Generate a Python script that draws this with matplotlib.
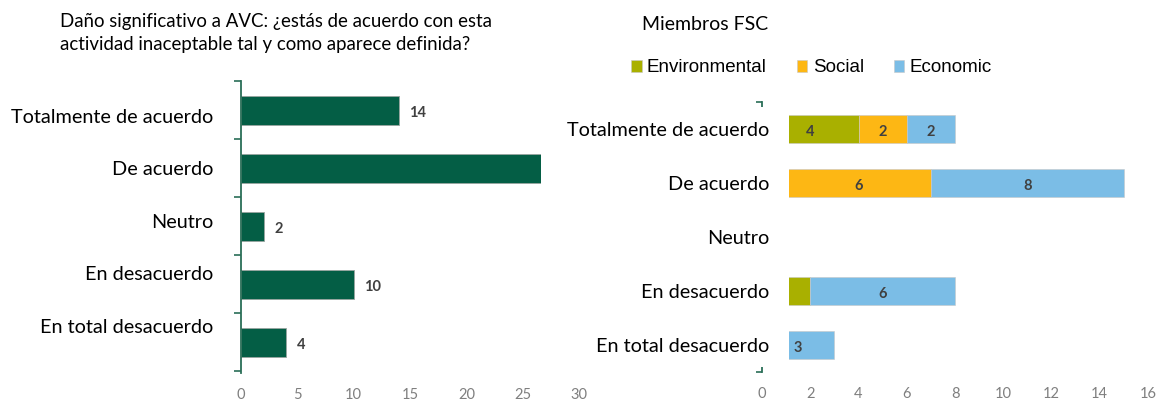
import numpy as np
import matplotlib
matplotlib.use('Agg')
import matplotlib.pyplot as plt
from matplotlib.patches import Rectangle

# data
categorias = ['Totalmente de acuerdo', 'De acuerdo', 'Neutro', 'En desacuerdo', 'En total desacuerdo']
total = [14, 27, 2, 10, 4]
env = [4, 1, 0, 2, 0]
soc = [2, 6, 0, 0, 0]
eco = [2, 8, 0, 6, 3]
series = ['Environmental', 'Social', 'Economic']

titulo = 'Daño significativo a AVC: ¿estás de acuerdo con esta\nactividad inaceptable tal y como aparece definida?'
titulo2 = 'Miembros FSC'

verde = '#045E45'
eje = '#2A6E57'
gris = '#7F7F7F'
oscuro = '#404040'
colores = ['#A9B000', '#FDB714', '#7BBDE6']

plt.rcParams['font.family'] = ['Lato', 'DejaVu Sans']

fig = plt.figure(figsize=(11.61, 4.01), dpi=100)
ax1 = fig.add_axes([241/1161, 1-373/401, 338/1161, 292/401])
ax2 = fig.add_axes([762/1161, 1-372/401, 386/1161, 270/401])

y = np.arange(len(categorias))

# ---- left chart
ax1.barh(y, total, height=0.5, color=verde, edgecolor='#9aa5a0', linewidth=0.6)
for i, v in enumerate(total):
    ax1.text(v + 0.95, y[i] + 0.05, str(v), va='center', ha='left',
             fontsize=10.5, fontweight='bold', color=oscuro)
# cropped end of the "De acuerdo" bar in the original
ax1.add_patch(Rectangle((26.62, 0.7), 3.2, 0.6, facecolor='white',
                        edgecolor='none', zorder=6))
ax1.set_xlim(0, 30)
ax1.set_ylim(4.53, -0.5)
ax1.set_xticks(range(0, 31, 5))
ax1.set_yticks([0.1, 1.0, 1.91, 2.81, 3.72])
ax1.set_yticklabels(categorias, fontsize=14.3)
ax1.set_yticks(np.arange(-0.5, 5, 1), minor=True)
ax1.tick_params(axis='y', which='major', length=0, pad=20)
ax1.tick_params(axis='y', which='minor', length=5, width=1.2, color=eje, direction='out')
ax1.tick_params(axis='x', length=0, pad=11, labelsize=10.5, labelcolor=gris)
for s in ['top', 'right', 'bottom']:
    ax1.spines[s].set_visible(False)
ax1.spines['left'].set_color(eje)
ax1.spines['left'].set_linewidth(1.3)
fig.text(60/1161, 1-33/401, titulo, fontsize=13.4, ha='left', va='center',
         linespacing=1.45)

# ---- right chart
left = np.zeros(len(categorias))
handles = []
for vals, nombre, c in zip([env, soc, eco], series, colores):
    b = ax2.barh(y, vals, left=left, height=0.52, color=c, edgecolor='#c8c8c8',
                 linewidth=0.4, label=nombre)
    handles.append(b)
    for i, v in enumerate(vals):
        if v > 0 and left[i] + v / 2 > 1.3:
            ax2.text(left[i] + v / 2, y[i] + 0.05, str(v), ha='center', va='center',
                     fontsize=10.5, fontweight='bold', color=oscuro, zorder=4)
    left += np.array(vals)
# white block hiding the start of the bars, as in the original
ax2.add_patch(Rectangle((-0.3, -0.41), 1.42, 4.82, facecolor='white',
                        edgecolor='none', zorder=6, clip_on=False))
ax2.yaxis.set_zorder(7)
ax2.set_xlim(0, 16)
ax2.set_ylim(4.5, -0.5)
ax2.set_xticks(range(0, 17, 2))
ax2.set_yticks(y)
ax2.set_yticklabels(categorias, fontsize=14.3)
ax2.set_yticks([-0.5, 4.5], minor=True)
ax2.tick_params(axis='y', which='major', length=0, pad=-5)
ax2.tick_params(axis='y', which='minor', length=4.5, width=1.2, color=eje, direction='out')
ax2.tick_params(axis='x', length=0, pad=11, labelsize=10.5, labelcolor=gris)
for s in ['top', 'right', 'bottom']:
    ax2.spines[s].set_visible(False)
ax2.spines['left'].set_color(eje)
ax2.spines['left'].set_linewidth(1.3)
fig.text(768/1161, 1-25/401, titulo2, fontsize=14, ha='right', va='center')

fig.legend(handles=handles, loc='center left', bbox_to_anchor=(614/1161, 1-68/401),
           ncol=3, frameon=False, handlelength=0.57, handleheight=0.57,
           handletextpad=0.28, columnspacing=1.6,
           prop={'family': 'Liberation Sans', 'size': 13.5})

fig.savefig('out.png', dpi=100)
